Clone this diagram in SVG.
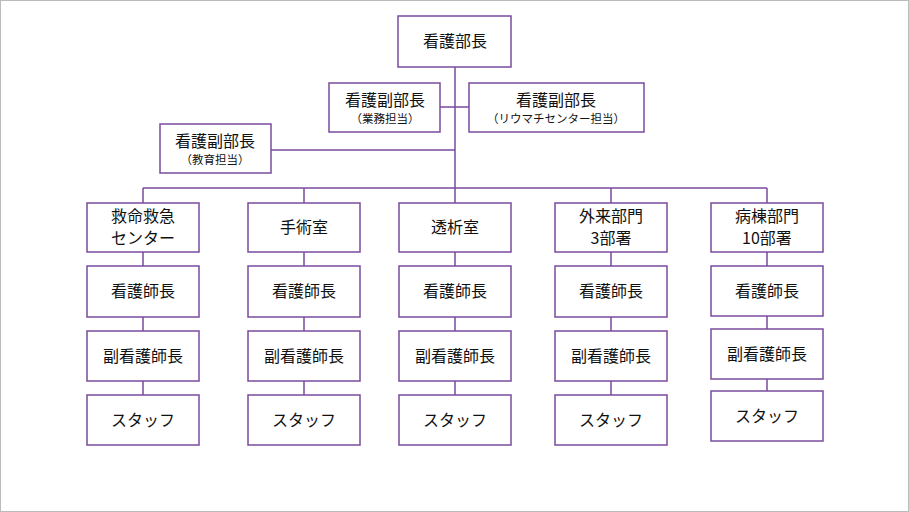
<svg xmlns="http://www.w3.org/2000/svg" width="909" height="512" viewBox="0 0 909 512">
<style>
.b{fill:#fff;stroke:#7a4b9e;stroke-width:1.5}
.l{stroke:#7a4b9e;stroke-width:1.5;fill:none}
text{font-family:"Noto Sans CJK JP","Noto Sans",sans-serif;fill:#111;text-anchor:middle}
.t{font-size:16px}.s{font-size:11.5px}
</style>
<rect x="0.5" y="0.5" width="908" height="511" fill="#fff" stroke="#bbb"/>
<g id="connectors" class="l">
<path d="M455 67V188M440 107H469M271 150H455M143 188H767"/>
<path d="M143 188V203M304 188V203M455 188V203M611 188V203M767 188V203"/>
<path d="M143 252V395M304 252V395M455 252V395M611 252V395M767 252V391"/>
</g>
<g id="top"><rect class="b" x="398" y="16" width="113" height="51"/><text class="t" x="455" y="47">看護部長</text></g>
<g id="vice1"><rect class="b" x="329" y="83" width="111" height="49"/><text class="t" x="385" y="106">看護副部長</text><text class="s" x="385" y="123">（業務担当）</text></g>
<g id="vice2"><rect class="b" x="469" y="83" width="175" height="49"/><text class="t" x="556" y="106">看護副部長</text><text class="s" x="556" y="123">（リウマチセンター担当）</text></g>
<g id="vice3"><rect class="b" x="160" y="124" width="111" height="49"/><text class="t" x="215" y="147">看護副部長</text><text class="s" x="215" y="164">（教育担当）</text></g>
<g id="c1">
<rect class="b" x="87" y="203" width="112" height="49"/><text class="t" x="143" y="222">救命救急</text><text class="t" x="143" y="244">センター</text>
<rect class="b" x="87" y="266" width="112" height="51"/><text class="t" x="143" y="297">看護師長</text>
<rect class="b" x="87" y="331" width="112" height="50"/><text class="t" x="143" y="362">副看護師長</text>
<rect class="b" x="87" y="395" width="112" height="50"/><text class="t" x="143" y="426">スタッフ</text>
</g>
<g id="c2">
<rect class="b" x="248" y="203" width="112" height="49"/><text class="t" x="304" y="233">手術室</text>
<rect class="b" x="248" y="266" width="112" height="51"/><text class="t" x="304" y="297">看護師長</text>
<rect class="b" x="248" y="331" width="112" height="50"/><text class="t" x="304" y="362">副看護師長</text>
<rect class="b" x="248" y="395" width="112" height="50"/><text class="t" x="304" y="426">スタッフ</text>
</g>
<g id="c3">
<rect class="b" x="399" y="203" width="112" height="49"/><text class="t" x="455" y="233">透析室</text>
<rect class="b" x="399" y="266" width="112" height="51"/><text class="t" x="455" y="297">看護師長</text>
<rect class="b" x="399" y="331" width="112" height="50"/><text class="t" x="455" y="362">副看護師長</text>
<rect class="b" x="399" y="395" width="112" height="50"/><text class="t" x="455" y="426">スタッフ</text>
</g>
<g id="c4">
<rect class="b" x="555" y="203" width="112" height="49"/><text class="t" x="611" y="222">外来部門</text><text class="t" x="611" y="244">3部署</text>
<rect class="b" x="555" y="266" width="112" height="51"/><text class="t" x="611" y="297">看護師長</text>
<rect class="b" x="555" y="331" width="112" height="50"/><text class="t" x="611" y="362">副看護師長</text>
<rect class="b" x="555" y="395" width="112" height="50"/><text class="t" x="611" y="426">スタッフ</text>
</g>
<g id="c5">
<rect class="b" x="711" y="203" width="112" height="49"/><text class="t" x="767" y="222">病棟部門</text><text class="t" x="767" y="244">10部署</text>
<rect class="b" x="711" y="266" width="112" height="50"/><text class="t" x="767" y="297">看護師長</text>
<rect class="b" x="711" y="329" width="112" height="50"/><text class="t" x="767" y="360">副看護師長</text>
<rect class="b" x="711" y="391" width="112" height="50"/><text class="t" x="767" y="422">スタッフ</text>
</g>
</svg>
